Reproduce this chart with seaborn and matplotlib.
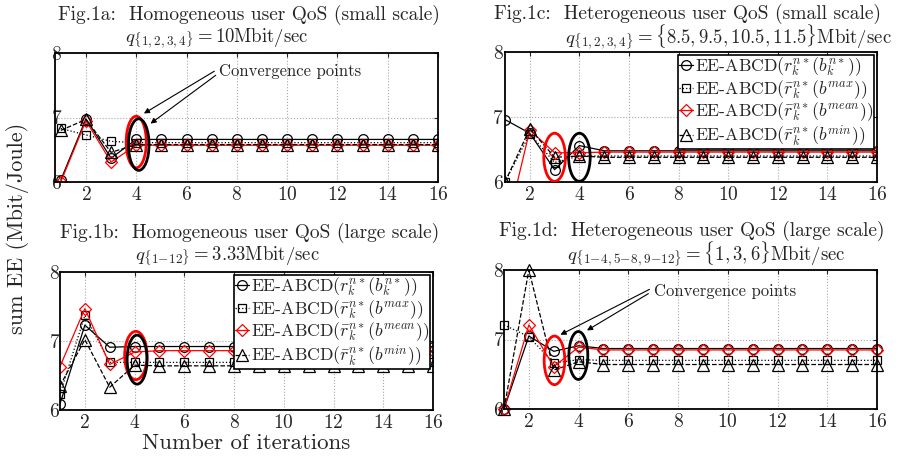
import numpy as np
import matplotlib
matplotlib.use("Agg")
import matplotlib.pyplot as plt
from matplotlib.patches import Ellipse
import seaborn as sns

# iterations on the x axis
iters = [1, 2, 3, 4, 5, 6, 7, 8, 9, 10, 11, 12, 13, 14, 15, 16]

# Fig.1a  homogeneous QoS, small scale
a_circ = [6.03, 6.98, 6.37, 6.66, 6.66, 6.66, 6.66, 6.66, 6.66, 6.66, 6.66, 6.66, 6.66, 6.66, 6.66, 6.66]
a_sq = [6.83, 6.73, 6.63, 6.61, 6.61, 6.61, 6.61, 6.61, 6.61, 6.61, 6.61, 6.61, 6.61, 6.61, 6.61, 6.61]
a_dia = [6.00, 6.95, 6.31, 6.57, 6.57, 6.57, 6.57, 6.57, 6.57, 6.57, 6.57, 6.57, 6.57, 6.57, 6.57, 6.57]
a_tri = [6.80, 6.97, 6.46, 6.58, 6.58, 6.58, 6.58, 6.58, 6.58, 6.58, 6.58, 6.58, 6.58, 6.58, 6.58, 6.58]

# Fig.1c  heterogeneous QoS, small scale
c_circ = [6.96, 6.75, 6.19, 6.56, 6.48, 6.48, 6.48, 6.48, 6.48, 6.48, 6.48, 6.48, 6.48, 6.48, 6.48, 6.48]
c_sq = [6.00, 6.74, 6.30, 6.40, 6.40, 6.40, 6.40, 6.40, 6.40, 6.40, 6.40, 6.40, 6.40, 6.40, 6.40, 6.40]
c_dia = [5.20, 6.80, 6.45, 6.45, 6.46, 6.46, 6.46, 6.46, 6.46, 6.46, 6.46, 6.46, 6.46, 6.46, 6.46, 6.46]
c_tri = [6.00, 6.82, 6.38, 6.40, 6.38, 6.38, 6.38, 6.38, 6.38, 6.38, 6.38, 6.38, 6.38, 6.38, 6.38, 6.38]

# Fig.1b  homogeneous QoS, large scale
b_circ = [6.09, 7.23, 6.91, 6.92, 6.92, 6.92, 6.92, 6.92, 6.92, 6.92, 6.92, 6.92, 6.92, 6.92, 6.92, 6.92]
b_sq = [6.23, 7.37, 6.69, 6.69, 6.69, 6.69, 6.69, 6.69, 6.69, 6.69, 6.69, 6.69, 6.69, 6.69, 6.69, 6.69]
b_dia = [6.63, 7.47, 6.66, 6.84, 6.86, 6.86, 6.86, 6.86, 6.86, 6.86, 6.86, 6.86, 6.86, 6.86, 6.86, 6.86]
b_tri = [6.35, 7.02, 6.33, 6.65, 6.64, 6.64, 6.64, 6.64, 6.64, 6.64, 6.64, 6.64, 6.64, 6.64, 6.64, 6.64]

# Fig.1d  heterogeneous QoS, large scale
d_circ = [6.00, 7.05, 6.83, 6.91, 6.87, 6.87, 6.87, 6.87, 6.87, 6.87, 6.87, 6.87, 6.87, 6.87, 6.87, 6.87]
d_sq = [7.21, 7.04, 6.66, 6.71, 6.70, 6.70, 6.70, 6.70, 6.70, 6.70, 6.70, 6.70, 6.70, 6.70, 6.70, 6.70]
d_dia = [6.00, 7.21, 6.61, 6.89, 6.85, 6.85, 6.85, 6.85, 6.85, 6.85, 6.85, 6.85, 6.85, 6.85, 6.85, 6.85]
d_tri = [6.00, 8.00, 6.56, 6.68, 6.64, 6.64, 6.64, 6.64, 6.64, 6.64, 6.64, 6.64, 6.64, 6.64, 6.64, 6.64]

labels = [r'EE-ABCD$(r_k^{n*}(b_k^{n*}))$',
          r'EE-ABCD$(\bar{r}_k^{n*}(b^{max}))$',
          r'EE-ABCD$(\bar{r}_k^{n*}(b^{mean}))$',
          r'EE-ABCD$(\bar{r}_k^{n*}(b^{min}))$']

sns.set_style("white")
plt.rcParams['font.family'] = 'serif'
plt.rcParams['font.serif'] = ['cmr10']
plt.rcParams['mathtext.fontset'] = 'cm'
plt.rcParams['axes.formatter.use_mathtext'] = True

W, H = 899, 457
fig = plt.figure(figsize=(W / 100, H / 100), dpi=100)


def box(l, r, t, b):
    return [l / W, 1 - b / H, (r - l) / W, (b - t) / H]


# marker / line style for each series
styles = [
    dict(marker='o', color='k', linestyle='-', markersize=7),
    dict(marker='s', color='k', linestyle=':', markersize=6),
    dict(marker='D', color='red', linestyle='-', markersize=6),
    dict(marker='^', color='k', linestyle='--', markersize=8),
]


def draw_panel(pos, series, title, subtitle, t1, t2, xmin=1, legend=False, clip=True, ypad=1):
    ax = fig.add_axes(pos)
    for vals, st, lab in zip(series, styles, labels):
        sns.lineplot(x=iters, y=vals, ax=ax, color=st['color'], linestyle=st['linestyle'],
                     marker=st['marker'], markersize=st['markersize'],
                     markerfacecolor='none', markeredgecolor=st['color'], markeredgewidth=0.9,
                     linewidth=0.9, label=lab if legend else None, clip_on=clip)
    ax.set_xlim(xmin, 16)
    ax.set_ylim(6, 8)
    ax.set_xticks([2, 4, 6, 8, 10, 12, 14, 16])
    ax.set_yticks([6, 7, 8])
    ax.grid(True, linestyle=':', color='0.65', linewidth=0.8)
    ax.tick_params(direction='in', length=3, labelsize=14, top=True, right=True, pad=3)
    ax.tick_params(axis='y', pad=ypad)
    for sp in ax.spines.values():
        sp.set_color('k')
        sp.set_linewidth(1.3)
    fig.text(t1[0] / W, 1 - t1[1] / H, title, ha='center', va='center', fontsize=14)
    fig.text(t2[0] / W, 1 - t2[1] / H, subtitle, ha='center', va='center', fontsize=13.5)
    if legend:
        lg = ax.legend(loc='upper right', fontsize=12.7, frameon=True, fancybox=False,
                       edgecolor='k', framealpha=1, handlelength=0.8, handletextpad=0.1,
                       borderpad=0.05, labelspacing=0.0, borderaxespad=0.15)
        lg.get_frame().set_linewidth(1.2)
    elif ax.get_legend() is not None:
        ax.get_legend().remove()
    return ax


ax_a = draw_panel(box(55, 438, 53, 182), [a_circ, a_sq, a_dia, a_tri],
                  'Fig.1a:  Homogeneous user QoS (small scale)',
                  r'$q_{\{1,2,3,4\}} = 10\mathrm{Mbit/sec}$',
                  (249, 15), (217, 38), xmin=0.77, ypad=-5)
ax_c = draw_panel(box(505, 877, 52, 182), [c_circ, c_sq, c_dia, c_tri],
                  'Fig.1c:  Heterogeneous user QoS (small scale)',
                  r'$q_{\{1,2,3,4\}} = \{8.5, 9.5, 10.5, 11.5\}\mathrm{Mbit/sec}$',
                  (687, 14), (728, 37), legend=True, ypad=1)
ax_b = draw_panel(box(60, 433, 272, 410), [b_circ, b_sq, b_dia, b_tri],
                  'Fig.1b:  Homogeneous user QoS (large scale)',
                  r'$q_{\{1\!-\!12\}} = 3.33\mathrm{Mbit/sec}$',
                  (250, 233), (227, 256), legend=True, ypad=0)
ax_d = draw_panel(box(504, 877, 270, 409), [d_circ, d_sq, d_dia, d_tri],
                  'Fig.1d:  Heterogeneous user QoS (large scale)',
                  r'$q_{\{1\!-\!4,5\!-\!8,9\!-\!12\}} = \{1, 3, 6\}\mathrm{Mbit/sec}$',
                  (692, 231), (706, 254), clip=False, ypad=0)

# convergence ellipses
def ring(ax, xy, w, h, col):
    ax.add_patch(Ellipse(xy, w, h, fill=False, edgecolor=col, linewidth=2, zorder=5))

ring(ax_a, (4.0, 6.62), 0.8, 0.8, 'red')
ring(ax_a, (4.1, 6.58), 0.82, 0.8, 'k')
ring(ax_c, (3.0, 6.38), 0.87, 0.74, 'red')
ring(ax_c, (4.0, 6.38), 0.87, 0.74, 'k')
ring(ax_b, (4.05, 6.79), 0.9, 0.7, 'red')
ring(ax_b, (4.1, 6.73), 0.8, 0.71, 'k')
ring(ax_d, (3.03, 6.70), 0.83, 0.7, 'red')
ring(ax_d, (3.99, 6.77), 0.76, 0.69, 'k')

arrow = dict(arrowstyle='-|>', color='k', lw=0.8, mutation_scale=8)
ax_a.text(7.3, 7.71, 'Convergence points', fontsize=12, va='center')
ax_a.annotate('', xy=(4.21, 7.04), xytext=(7.2, 7.74), arrowprops=arrow)
ax_a.annotate('', xy=(4.48, 6.88), xytext=(7.25, 7.68), arrowprops=arrow)
ax_d.text(7.05, 7.70, 'Convergence points', fontsize=12, va='center')
ax_d.annotate('', xy=(3.17, 7.05), xytext=(6.95, 7.74), arrowprops=arrow)
ax_d.annotate('', xy=(4.24, 7.11), xytext=(6.9, 7.68), arrowprops=arrow)

fig.text(18 / W, 1 - 228 / H, 'sum EE (Mbit/Joule)', rotation=90, ha='center', va='center', fontsize=16)
fig.text(246 / W, 1 - 443 / H, 'Number of iterations', ha='center', va='center', fontsize=16.5)

fig.savefig('out.png', dpi=100)
